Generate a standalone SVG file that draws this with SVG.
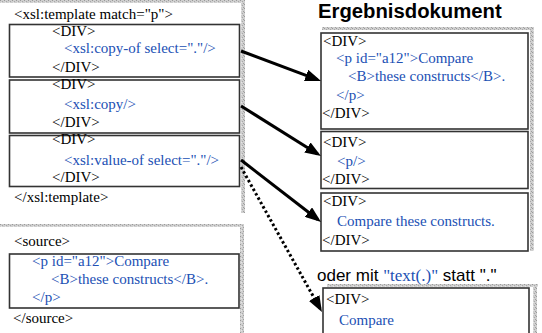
<svg xmlns="http://www.w3.org/2000/svg" width="542" height="333" viewBox="0 0 542 333">
<defs>
<pattern id="stip" width="4" height="4" patternUnits="userSpaceOnUse">
<rect width="4" height="4" fill="#cfcfcf"/>
<rect x="0" y="0" width="1" height="1" fill="#9a9a9a"/>
<rect x="2" y="1" width="1" height="1" fill="#a8a8a8"/>
<rect x="1" y="2" width="1" height="1" fill="#e6e6e6"/>
<rect x="3" y="3" width="1" height="1" fill="#9f9f9f"/>
</pattern>
<marker id="ah" markerUnits="userSpaceOnUse" markerWidth="16" markerHeight="12" viewBox="0 0 16 12" refX="12" refY="6" orient="auto">
<path d="M0,0 L16,6 L0,12 Z" fill="#000"/>
</marker>
</defs>
<style>
.t{font-family:"Liberation Serif","Times New Roman",serif;font-size:15px;fill:#000}
.b{fill:#2150b4}
.box{fill:#fff;stroke:#333;stroke-width:1.6}
.fr{fill:url(#stip)}
.ar{stroke:#000;stroke-width:3;fill:none;marker-end:url(#ah)}
.dot{stroke:#000;stroke-width:3;fill:none;stroke-dasharray:2.5 2.5;marker-end:url(#ah)}
.s{font-family:"Liberation Sans",Arial,sans-serif;font-size:17px;fill:#000}
</style>
<rect width="542" height="333" fill="#fff"/>

<g id="panel-template">
<rect class="fr" x="0" y="0" width="245" height="3"/>
<rect class="fr" x="241" y="0" width="4" height="213"/>
<text class="t" x="14" y="19">&lt;xsl:template match="p"&gt;</text>
<text class="t" x="14" y="202">&lt;/xsl:template&gt;</text>
</g>

<g id="tmpl-copyof">
<rect class="box" x="9.5" y="24.5" width="230" height="52.5"/>
<text class="t" x="52" y="36">&lt;DIV&gt;</text>
<text class="t b" x="64" y="53">&lt;xsl:copy-of select="."/&gt;</text>
<text class="t" x="52" y="72">&lt;/DIV&gt;</text>
</g>

<g id="tmpl-copy">
<rect class="box" x="9.5" y="80" width="230" height="53"/>
<text class="t" x="52" y="89">&lt;DIV&gt;</text>
<text class="t b" x="64" y="109">&lt;xsl:copy/&gt;</text>
<text class="t" x="52" y="127">&lt;/DIV&gt;</text>
</g>

<g id="tmpl-valueof">
<rect class="box" x="9.5" y="135.5" width="230" height="51"/>
<text class="t" x="52" y="144">&lt;DIV&gt;</text>
<text class="t b" x="64" y="165">&lt;xsl:value-of select="."/&gt;</text>
<text class="t" x="52" y="182">&lt;/DIV&gt;</text>
</g>

<g id="panel-source">
<rect class="fr" x="0" y="224" width="244" height="3"/>
<rect class="fr" x="240" y="224" width="4" height="109"/>
<text class="t" x="14" y="246">&lt;source&gt;</text>
<rect class="box" x="9.5" y="254" width="229.5" height="54"/>
<text class="t b" x="32" y="266">&lt;p id="a12"&gt;Compare</text>
<text class="t b" x="51" y="284">&lt;B&gt;these constructs&lt;/B&gt;.</text>
<text class="t b" x="32" y="302">&lt;/p&gt;</text>
<text class="t" x="13" y="323">&lt;/source&gt;</text>
</g>

<g id="title">
<text x="318" y="18" style="font-family:'Liberation Sans',Arial,sans-serif;font-size:20.3px;font-weight:bold;fill:#000">Ergebnisdokument</text>
</g>

<g id="panel-result">
<rect class="fr" x="322" y="27" width="212" height="3"/>
<rect class="fr" x="530" y="27" width="4" height="224"/>
</g>

<g id="res-copyof">
<rect class="box" x="321" y="33" width="207" height="96"/>
<text class="t" x="323" y="46">&lt;DIV&gt;</text>
<text class="t b" x="336" y="63">&lt;p id="a12"&gt;Compare</text>
<text class="t b" x="348" y="81">&lt;B&gt;these constructs&lt;/B&gt;.</text>
<text class="t b" x="336" y="100">&lt;/p&gt;</text>
<text class="t" x="322" y="118">&lt;/DIV&gt;</text>
</g>

<g id="res-copy">
<rect class="box" x="321" y="131.5" width="207" height="57"/>
<text class="t" x="323" y="147">&lt;DIV&gt;</text>
<text class="t b" x="337" y="166">&lt;p/&gt;</text>
<text class="t" x="322" y="184">&lt;/DIV&gt;</text>
</g>

<g id="res-valueof">
<rect class="box" x="321" y="193" width="207" height="58"/>
<text class="t" x="323" y="206">&lt;DIV&gt;</text>
<text class="t b" x="337" y="226">Compare these constructs.</text>
<text class="t" x="322" y="245">&lt;/DIV&gt;</text>
</g>

<g id="note">
<text class="s" x="317" y="281">oder mit <tspan style="font-family:'Liberation Serif','Times New Roman',serif;fill:#2150b4">"text(.)"</tspan> statt "."</text>
</g>

<g id="res-text">
<rect class="fr" x="327" y="284" width="211" height="3"/>
<rect class="fr" x="533" y="284" width="4" height="49"/>
<rect class="box" x="323" y="288" width="206" height="50"/>
<text class="t" x="326" y="304">&lt;DIV&gt;</text>
<text class="t b" x="339" y="325">Compare</text>
</g>

<g id="connectors">
<line class="ar" x1="241" y1="51" x2="317.3" y2="79.6"/>
<line class="ar" x1="241" y1="106" x2="317.6" y2="153.9"/>
<line class="ar" x1="241" y1="160" x2="317.9" y2="219.5"/>
<line class="dot" x1="241" y1="167" x2="320" y2="308.5"/>
</g>
</svg>
